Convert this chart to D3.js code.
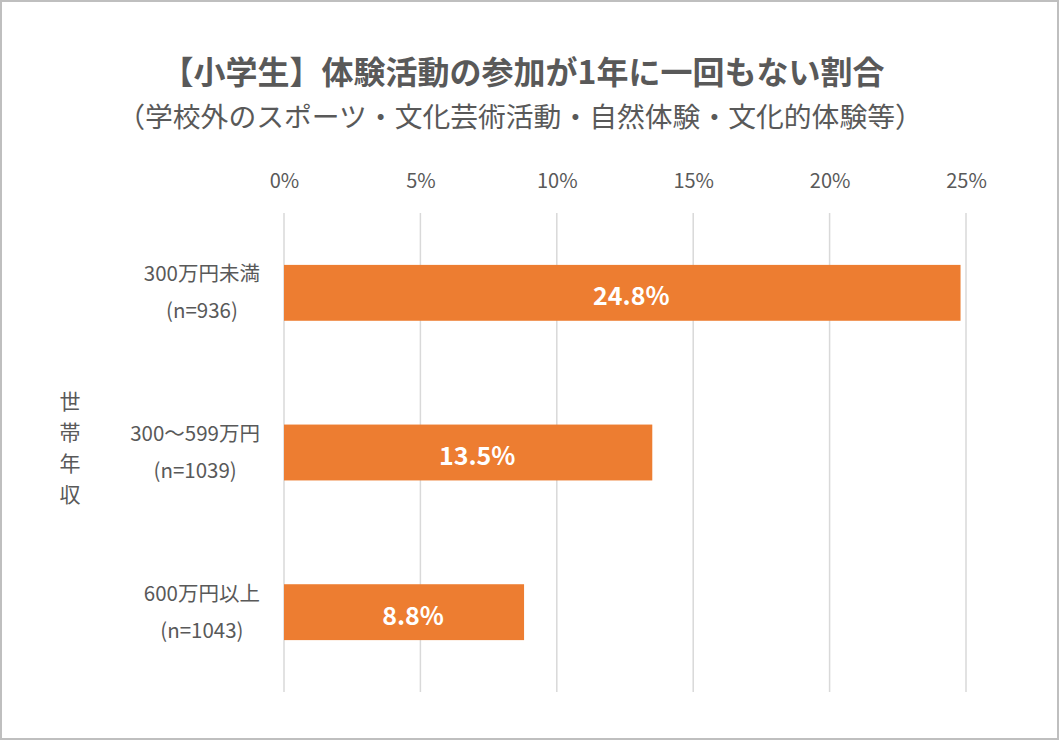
<!DOCTYPE html>
<html>
<head>
<meta charset="utf-8">
<script src="https://cdn.jsdelivr.net/npm/d3@7"></script>
<style>
  html, body { margin: 0; padding: 0; background: #fff; }
  svg { display: block; font-family: "Noto Sans CJK JP", "Noto Sans", sans-serif; }
</style>
</head>
<body>
<svg id="chart" width="1059" height="740"></svg>
<script>
// chart data
var categories = ['300万円未満', '300～599万円', '600万円以上'];
var sampleSizes = ['(n=936)', '(n=1039)', '(n=1043)'];
var values = [24.8, 13.5, 8.8];
var tickValues = [0, 5, 10, 15, 20, 25];

var titleText = '【小学生】体験活動の参加が1年に一回もない割合';
var subtitleText = '（学校外のスポーツ・文化芸術活動・自然体験・文化的体験等）';
var axisTitle = ['世', '帯', '年', '収'];

var svg = d3.select('#chart');
var W = 1059, H = 740;
var textColor = '#595959';

// outer border
svg.append('rect')
    .attr('x', 1).attr('y', 1)
    .attr('width', W - 2).attr('height', H - 2)
    .attr('fill', '#fff')
    .attr('stroke', '#bfbfbf')
    .attr('stroke-width', 2);

var margin = {left: 284, right: 93, top: 213, bottom: 48};
var plotW = W - margin.left - margin.right;
var plotH = H - margin.top - margin.bottom;

var xs = d3.scaleLinear().domain([0, 25]).range([0, plotW]);
var ys = d3.scaleBand().domain(categories).range([0, plotH])
    .paddingInner(0.65).paddingOuter(0.325);

var g = svg.append('g').attr('transform', 'translate(' + margin.left + ',' + margin.top + ')');

// gridlines
g.append('g')
    .selectAll('line').data(tickValues).enter().append('line')
    .attr('x1', function (d) { return xs(d); })
    .attr('x2', function (d) { return xs(d); })
    .attr('y1', 0)
    .attr('y2', plotH)
    .attr('stroke', '#d9d9d9')
    .attr('stroke-width', 1.5);

// top axis labels
var xAxis = d3.axisTop(xs).tickValues(tickValues)
    .tickFormat(function (d) { return d + '%'; })
    .tickSize(0).tickPadding(25);
var ax = g.append('g').call(xAxis);
ax.select('.domain').remove();
ax.selectAll('text')
    .attr('fill', textColor)
    .style('font-size', '20px')
    .style('font-family', '"Noto Sans CJK JP", sans-serif');

// bars
g.selectAll('rect.bar').data(values).enter().append('rect')
    .attr('class', 'bar')
    .attr('x', 0)
    .attr('y', function (d, i) { return ys(categories[i]); })
    .attr('width', function (d) { return xs(d); })
    .attr('height', ys.bandwidth())
    .attr('fill', '#ed7d31');

// value labels (sit a little right of the bar centre, as in the source)
g.selectAll('text.val').data(values).enter().append('text')
    .attr('class', 'val')
    .attr('x', function (d) { return xs(d) / 2 + 9; })
    .attr('y', function (d, i) { return ys(categories[i]) + ys.bandwidth() / 2; })
    .attr('dy', '0.5em')
    .attr('text-anchor', 'middle')
    .attr('fill', '#fff')
    .style('font-size', '25px')
    .style('font-weight', 'bold')
    .text(function (d) { return d.toFixed(1) + '%'; });

// category labels (two lines)
var catG = g.selectAll('g.cat').data(categories).enter().append('g')
    .attr('class', 'cat')
    .attr('transform', function (d) {
        return 'translate(' + (-50) + ',' + (ys(d) + ys.bandwidth() / 2) + ')';
    });
catG.append('text')
    .attr('y', -11.5)
    .attr('text-anchor', 'middle')
    .attr('fill', textColor)
    .style('font-size', '20.5px')
    .text(function (d) { return d; });
catG.append('text')
    .attr('y', 25.5)
    .attr('text-anchor', 'middle')
    .attr('fill', textColor)
    .style('font-size', '20.5px')
    .text(function (d, i) { return sampleSizes[i]; });

// centre both lines on the widest one, right edge near the axis
catG.each(function () {
    var grp = d3.select(this);
    var texts = grp.selectAll('text').nodes();
    var wMax = d3.max(texts, function (t) { return t.getComputedTextLength(); });
    grp.selectAll('text').attr('x', -wMax / 2 + 26);
});

// axis title, vertical
svg.append('g').selectAll('text').data(axisTitle).enter().append('text')
    .attr('x', 70)
    .attr('y', function (d, i) { return 409 + i * 31; })
    .attr('text-anchor', 'middle')
    .attr('fill', textColor)
    .style('font-size', '21px')
    .text(function (d) { return d; });

// titles
svg.append('text')
    .attr('x', 523)
    .attr('y', 84)
    .attr('text-anchor', 'middle')
    .attr('fill', textColor)
    .style('font-size', '32px')
    .style('font-weight', 'bold')
    .text(titleText);

svg.append('text')
    .attr('x', 520)
    .attr('y', 127)
    .attr('text-anchor', 'middle')
    .attr('fill', textColor)
    .style('font-size', '27.8px')
    .text(subtitleText);
</script>
</body>
</html>
